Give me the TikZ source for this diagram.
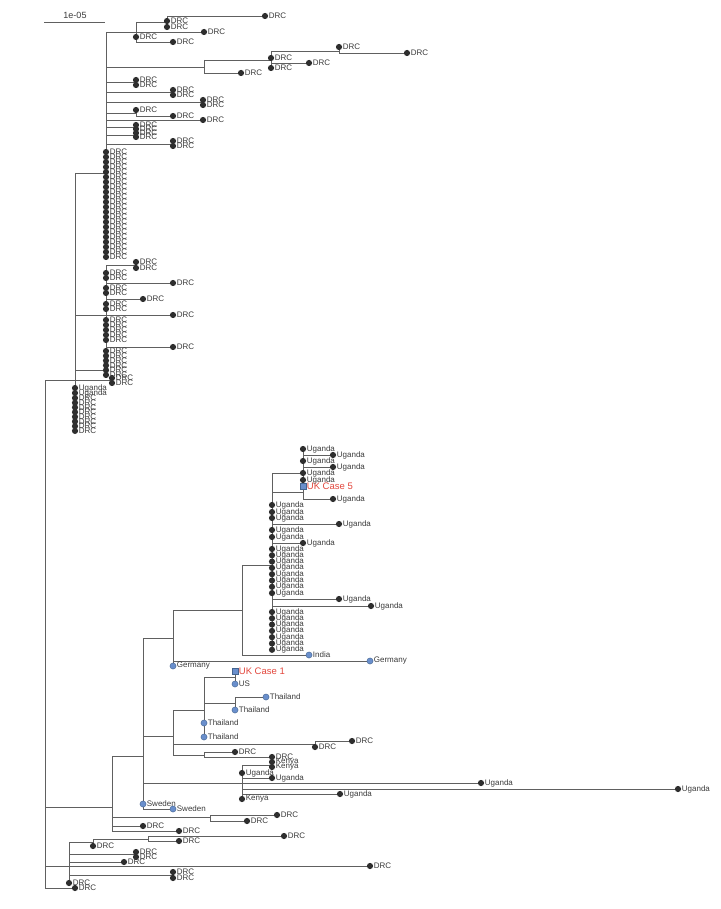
\documentclass[tikz,border=0pt]{standalone}
\usepackage{fontspec}
\setmainfont{Liberation Sans}
\usetikzlibrary{backgrounds}

\definecolor{dotgray}{HTML}{2E2E2E}
\definecolor{linegray}{HTML}{606060}
\definecolor{labgray}{HTML}{3A3A3A}
\definecolor{ptblue}{HTML}{6A8FCC}
\definecolor{ptedge}{HTML}{44648F}
\definecolor{ukred}{HTML}{E2463C}

\tikzstyle{leafdot} = [circle, fill=dotgray, minimum size=6.2pt, inner sep=0pt]
\tikzstyle{bluedot} = [circle, fill=ptblue, draw=ptedge, line width=0.4pt, minimum size=6.2pt, inner sep=0pt]
\tikzstyle{casesq} = [rectangle, fill=ptblue, draw=ptedge, line width=0.4pt, minimum size=5.8pt, inner sep=0pt]
\tikzstyle{lab} = [font=\fontsize{8}{9}\selectfont, text=labgray, inner sep=0.4pt]
\tikzstyle{uklab} = [font=\fontsize{9.5}{11}\selectfont, text=ukred, inner sep=0.6pt]
\tikzstyle{brline} = [draw=linegray, line width=0.75pt]
\tikzstyle{drc} = [leafdot, label={[lab]right:DRC}]
\tikzstyle{ug} = [leafdot, label={[lab]right:Uganda}]
\tikzstyle{ke} = [leafdot, label={[lab]right:Kenya}]

\begin{document}
\begin{tikzpicture}[x=1pt, y=-1pt]
\useasboundingbox (0,0) rectangle (720,909);

% scale bar
\coordinate (sb1) at (44,22);
\coordinate (sb2) at (105,22);
\node[lab, font=\fontsize{9}{10}\selectfont] (sbl) at (75,15) {1e-05};

% inner nodes
\coordinate (R) at (45,634);
\coordinate (T) at (75,380);
\coordinate (U) at (106,173);
\coordinate (A) at (136,32);
\coordinate (B) at (167,22);
\coordinate (C) at (204,67);
\coordinate (D) at (271,60);
\coordinate (E) at (339,51);
\coordinate (F) at (136,82);
\coordinate (G) at (173,92);
\coordinate (H) at (203,102);
\coordinate (I) at (136,113);
\coordinate (J) at (136,127);
\coordinate (K) at (136,135);
\coordinate (L) at (173,144);
\coordinate (V) at (106,315);
\coordinate (M) at (136,265);
\coordinate (W) at (106,370);
\coordinate (P) at (112,380);

\coordinate (N112) at (112,807);
\coordinate (N143) at (143,756);
\coordinate (N1) at (173,638);
\coordinate (UG) at (242,610);
\coordinate (UK) at (272,565);
\coordinate (X) at (303,473);
\coordinate (X2) at (303,492);
\coordinate (N2) at (173,736);
\coordinate (N204) at (204,710);
\coordinate (N235a) at (235,677);
\coordinate (N235b) at (235,703);
\coordinate (N315) at (315,744);
\coordinate (N204b) at (204,755);
\coordinate (NK) at (242,783);
\coordinate (NK2) at (272,765);
\coordinate (N210) at (210,817);
\coordinate (N69) at (69,866);
\coordinate (N93) at (93,842);
\coordinate (N148) at (148,839);
\coordinate (N136) at (136,854);
\coordinate (Q) at (173,875);

% DRC tips
\foreach \n/\x/\y in {b1/265/16, b2/167/21, b3/167/27, a2/204/32, a3/136/37, a4/173/42,
    e1/339/47, e2/407/53, d1/271/58, d2/309/63, d3/271/68, c2/241/73,
    f1/136/80, f2/136/85, g1/173/90, g2/173/95, h1/203/100, h2/203/105,
    i1/136/110, i2/173/116, u1/203/120, j1/136/125, j2/136/129, k1/136/133, k2/136/137,
    l1/173/141, l2/173/146, m1/136/262, m2/136/268,
    v0/106/273, v1/106/278, v2/173/283, v3/106/288, v4/106/293, v5/143/299,
    v6/106/304, v7/106/309, v8/173/315, v9/106/320, v10/106/325, v11/106/330,
    v12/106/335, v13/106/340, v14/173/347, p1/112/378, p2/112/383,
    dr1/352/741, dr2/315/747, dr3/235/752, dr4/272/757, dr5/277/815, dr6/247/821,
    dr7/143/826, dr8/179/831, dr9/284/836, dr10/179/841, dr11/93/846,
    dr12/136/852, dr13/136/857, dr14/124/862, dr15/370/866, dr16/173/872,
    dr17/173/878, dr18/69/883, dr19/75/888}
    \node[drc] (\n) at (\x,\y) {};
\foreach \i in {0,...,21}
    \node[drc] (uc\i) at (106,{152+5*\i}) {};
\foreach \i in {0,...,5}
    \node[drc] (w\i) at (106,{351+4.8*\i}) {};
\foreach \i in {0,...,7}
    \node[drc] (td\i) at (75,{398+4.7*\i}) {};

% Uganda and Kenya tips
\foreach \n/\x/\y in {t0/75/388, t1/75/393, x0/303/449, x1/333/455, x2/303/461,
    x3/333/467, x4/303/473, x5/303/480, x7/333/499, y0/272/505, y1/272/512,
    y2/272/518, y3/339/524, y4/272/530, y5/272/537, y6/303/543, y7/339/599,
    y8/371/606, ug1/242/773, ug2/272/778, ug3/481/783, ug4/678/789, ug5/340/794}
    \node[ug] (\n) at (\x,\y) {};
\foreach \i in {0,...,7}
    \node[ug] (z\i) at (272,{549+6.3*\i}) {};
\foreach \i in {0,...,6}
    \node[ug] (q\i) at (272,{612+6.3*\i}) {};
\foreach \n/\x/\y in {ke1/272/762, ke2/272/767, ke3/242/799}
    \node[ke] (\n) at (\x,\y) {};

% travel-linked tips
\node[bluedot, label={[lab]right:India}] (india) at (309,655) {};
\node[bluedot, label={[lab]right:Germany}] (ger1) at (370,661) {};
\node[bluedot, label={[lab]right:Germany}] (ger2) at (173,666) {};
\node[bluedot, label={[lab]right:US}] (us) at (235,684) {};
\node[bluedot, label={[lab]right:Thailand}] (th1) at (266,697) {};
\node[bluedot, label={[lab]right:Thailand}] (th2) at (235,710) {};
\node[bluedot, label={[lab]right:Thailand}] (th3) at (204,723) {};
\node[bluedot, label={[lab]right:Thailand}] (th4) at (204,737) {};
\node[bluedot, label={[lab]right:Sweden}] (sw1) at (143,804) {};
\node[bluedot, label={[lab]right:Sweden}] (sw2) at (173,809) {};
\node[casesq, label={[uklab]right:UK Case 5}] (uk5) at (303,486) {};
\node[casesq, label={[uklab]right:UK Case 1}] (uk1) at (235,671) {};

\begin{scope}[on background layer]
\draw[brline] (sb1) -- (sb2);
% root
\draw[brline] (R |- T) -- (R |- dr19);
\draw[brline] (R |- T) -- (T);
\draw[brline] (R |- N112) -- (N112);
\draw[brline] (R |- N69) -- (N69);
\draw[brline] (R |- dr19) -- (dr19);
% DRC clade
\draw[brline] (T |- U) -- (T |- td7);
\draw[brline] (T |- U) -- (U);
\draw[brline] (U |- A) -- (U |- uc21);
\draw[brline] (U |- A) -- (A);
\draw[brline] (A |- B) -- (A |- a4);
\draw[brline] (A |- B) -- (B);
\draw[brline] (B |- b1) -- (B |- b3);
\draw[brline] (B |- b1) -- (b1);
\draw[brline] (A |- a2) -- (a2);
\draw[brline] (A |- a4) -- (a4);
\draw[brline] (U |- C) -- (C);
\draw[brline] (C |- D) -- (C |- c2);
\draw[brline] (C |- D) -- (D);
\draw[brline] (C |- c2) -- (c2);
\draw[brline] (D |- E) -- (D |- d3);
\draw[brline] (D |- E) -- (E);
\draw[brline] (D |- d2) -- (d2);
\draw[brline] (E |- e1) -- (E |- e2);
\draw[brline] (E |- e2) -- (e2);
\draw[brline] (U |- F) -- (F);
\draw[brline] (F |- f1) -- (F |- f2);
\draw[brline] (U |- G) -- (G);
\draw[brline] (G |- g1) -- (G |- g2);
\draw[brline] (U |- H) -- (H);
\draw[brline] (H |- h1) -- (H |- h2);
\draw[brline] (U |- I) -- (I);
\draw[brline] (I |- i1) -- (I |- i2);
\draw[brline] (I |- i2) -- (i2);
\draw[brline] (U |- u1) -- (u1);
\draw[brline] (U |- J) -- (J);
\draw[brline] (J |- j1) -- (J |- j2);
\draw[brline] (U |- K) -- (K);
\draw[brline] (K |- k1) -- (K |- k2);
\draw[brline] (U |- L) -- (L);
\draw[brline] (L |- l1) -- (L |- l2);
\draw[brline] (T |- V) -- (V);
\draw[brline] (V |- M) -- (V |- v14);
\draw[brline] (V |- M) -- (M);
\draw[brline] (M |- m1) -- (M |- m2);
\draw[brline] (V |- v2) -- (v2);
\draw[brline] (V |- v5) -- (v5);
\draw[brline] (V |- v8) -- (v8);
\draw[brline] (V |- v14) -- (v14);
\draw[brline] (T |- W) -- (W);
\draw[brline] (W |- w0) -- (W |- w5);
\draw[brline] (T |- P) -- (P);
\draw[brline] (P |- p1) -- (P |- p2);
% lower clade
\draw[brline] (N112 |- N143) -- (N112 |- dr8);
\draw[brline] (N112 |- N143) -- (N143);
\draw[brline] (N143 |- N1) -- (N143 |- sw2);
\draw[brline] (N143 |- N1) -- (N1);
\draw[brline] (N1 |- UG) -- (N1 |- ger2);
\draw[brline] (N1 |- UG) -- (UG);
\draw[brline] (UG |- UK) -- (UG |- india);
\draw[brline] (UG |- UK) -- (UK);
\draw[brline] (UK |- X) -- (UK |- q6);
\draw[brline] (UK |- X) -- (X);
\draw[brline] (UK |- X2) -- (X2);
\draw[brline] (X |- x0) -- (X |- x7);
\draw[brline] (X |- x1) -- (x1);
\draw[brline] (X |- x3) -- (x3);
\draw[brline] (X |- x7) -- (x7);
\draw[brline] (UK |- y3) -- (y3);
\draw[brline] (UK |- y6) -- (y6);
\draw[brline] (UK |- y7) -- (y7);
\draw[brline] (UK |- y8) -- (y8);
\draw[brline] (UG |- india) -- (india);
\draw[brline] (N1 |- ger1) -- (ger1);
\draw[brline] (N143 |- N2) -- (N2);
\draw[brline] (N2 |- N204) -- (N2 |- N204b);
\draw[brline] (N2 |- N204) -- (N204);
\draw[brline] (N204 |- N235a) -- (N204 |- th4);
\draw[brline] (N204 |- N235a) -- (N235a);
\draw[brline] (N235a |- uk1) -- (N235a |- us);
\draw[brline] (N204 |- N235b) -- (N235b);
\draw[brline] (N235b |- th1) -- (N235b |- th2);
\draw[brline] (N235b |- th1) -- (th1);
\draw[brline] (N2 |- N315) -- (N315);
\draw[brline] (N315 |- dr1) -- (N315 |- dr2);
\draw[brline] (N315 |- dr1) -- (dr1);
\draw[brline] (N2 |- N204b) -- (N204b);
\draw[brline] (N204b |- dr3) -- (N204b |- dr4);
\draw[brline] (N204b |- dr3) -- (dr3);
\draw[brline] (N204b |- dr4) -- (dr4);
\draw[brline] (N143 |- NK) -- (NK);
\draw[brline] (NK |- NK2) -- (NK |- ke3);
\draw[brline] (NK |- NK2) -- (NK2);
\draw[brline] (NK2 |- ke1) -- (NK2 |- ke2);
\draw[brline] (NK |- ug2) -- (ug2);
\draw[brline] (NK |- ug3) -- (ug3);
\draw[brline] (NK |- ug4) -- (ug4);
\draw[brline] (NK |- ug5) -- (ug5);
\draw[brline] (N143 |- sw2) -- (sw2);
\draw[brline] (N112 |- N210) -- (N210);
\draw[brline] (N210 |- dr5) -- (N210 |- dr6);
\draw[brline] (N210 |- dr5) -- (dr5);
\draw[brline] (N210 |- dr6) -- (dr6);
\draw[brline] (N112 |- dr7) -- (dr7);
\draw[brline] (N112 |- dr8) -- (dr8);
% basal DRC clade
\draw[brline] (N69 |- N93) -- (N69 |- dr18);
\draw[brline] (N69 |- N93) -- (N93);
\draw[brline] (N93 |- N148) -- (N93 |- dr11);
\draw[brline] (N93 |- N148) -- (N148);
\draw[brline] (N148 |- dr9) -- (N148 |- dr10);
\draw[brline] (N148 |- dr9) -- (dr9);
\draw[brline] (N148 |- dr10) -- (dr10);
\draw[brline] (N69 |- N136) -- (N136);
\draw[brline] (N136 |- dr12) -- (N136 |- dr13);
\draw[brline] (N69 |- dr14) -- (dr14);
\draw[brline] (N69 |- dr15) -- (dr15);
\draw[brline] (N69 |- Q) -- (Q);
\draw[brline] (Q |- dr16) -- (Q |- dr17);
\end{scope}
\end{tikzpicture}
\end{document}
